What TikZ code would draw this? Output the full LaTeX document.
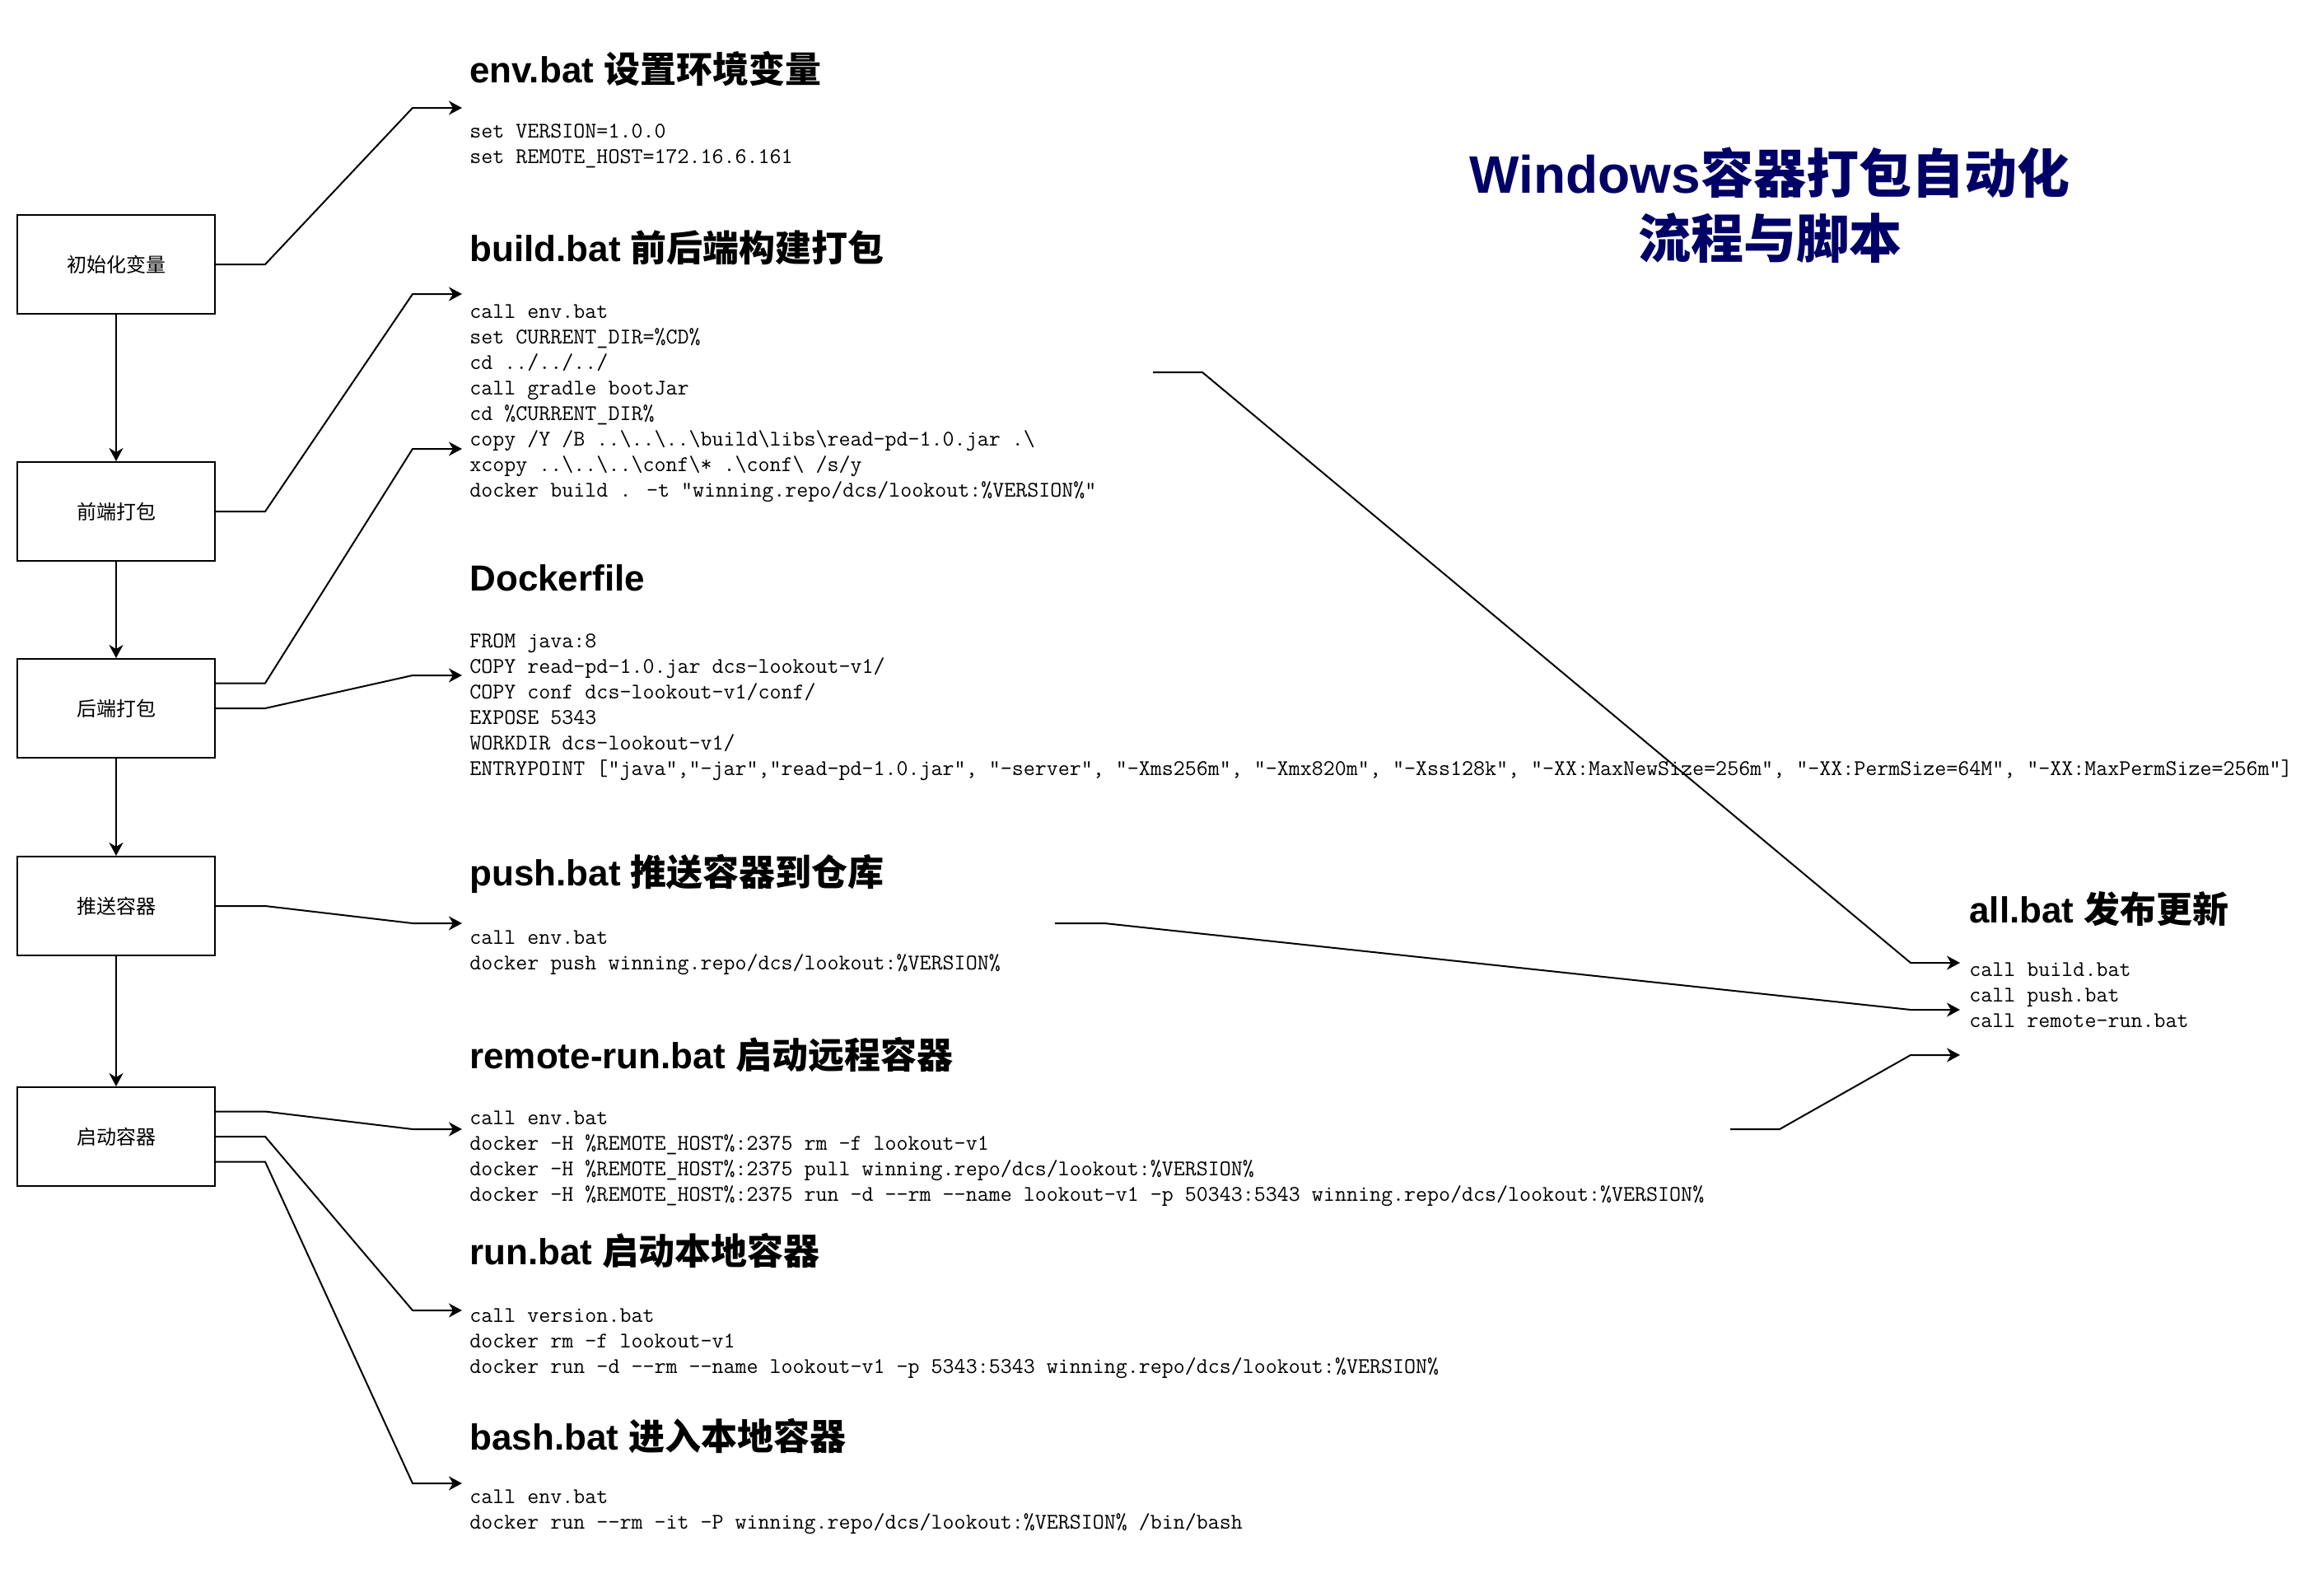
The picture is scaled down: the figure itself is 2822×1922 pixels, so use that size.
\documentclass[tikz,border=0pt]{standalone}
\usepackage{fontspec}
\setmainfont{Liberation Sans}
\newfontfamily\cjk{Noto Sans CJK SC}
\usetikzlibrary{calc, arrows.meta}
\definecolor{titleblue}{HTML}{000066}
\newcommand{\bksl}{\textbackslash}
\newcommand{\codefont}{\ttfamily\fontsize{13.6}{15.5}\selectfont}
\newcommand{\headfont}{\fontsize{22}{26}\selectfont\bfseries}

\begin{document}
\begin{tikzpicture}[x=0.5pt, y=-0.5pt, >={Stealth[length=8pt, width=8.5pt, inset=2.5pt]}]
	\tikzset{stepBox/.style={draw=black, line width=1pt, fill=white, minimum width=120pt, minimum height=60pt, font=\fontsize{12}{14}\selectfont\cjk}}
	\tikzset{link/.style={->, line width=1pt}}
	\tikzset{head/.style={anchor=base west, inner sep=0pt, font=\headfont}}
	\tikzset{code/.style={anchor=north west, inner sep=0pt, yshift=10.85pt, align=left, font=\codefont}}
	\tikzset{title/.style={anchor=north, inner sep=0pt, yshift=27.65pt, align=center, text=titleblue, font=\fontsize{32}{39.5}\selectfont\bfseries}}
		\useasboundingbox (0,0) rectangle (2822,1922);
		\foreach \name/\y/\tag in {boxInit/321/初始化变量, boxFront/621/前端打包, boxBack/860/后端打包, boxPush/1100/推送容器, boxStart/1380/启动容器}
		{\node[stepBox] (\name) at (141,\y) {\tag};}
		\draw[link] (boxInit) -- (boxFront);
		\draw[link] (boxFront) -- (boxBack);
		\draw[link] (boxBack) -- (boxPush);
		\draw[link] (boxPush) -- (boxStart);
		% scripts
		\node[head] (envHead) at (570,100) {env.bat {\cjk 设置环境变量}};
		\node[code] (envCode) at (570,167) {\strut set VERSION=1.0.0\\
			set REMOTE\_HOST=172.16.6.161};
		\node[head] (buildHead) at (570,317) {build.bat {\cjk 前后端构建打包}};
		\node[code] (buildCode) at (570,386) {\strut call env.bat\\
			set CURRENT\_DIR=\%CD\%\\
			cd ../../../\\
			call gradle bootJar\\
			cd \%CURRENT\_DIR\%\\
			copy /Y /B ..\bksl..\bksl..\bksl build\bksl libs\bksl read-pd-1.0.jar .\bksl\\
			xcopy ..\bksl..\bksl..\bksl conf\bksl* .\bksl conf\bksl{} /s/y\\
			docker build . -t "winning.repo/dcs/lookout:\%VERSION\%"};
		\node[head] (dockHead) at (570,717) {Dockerfile};
		\node[code] (dockCode) at (570,786) {\strut FROM java:8\\
			COPY read-pd-1.0.jar dcs-lookout-v1/\\
			COPY conf dcs-lookout-v1/conf/\\
			EXPOSE 5343\\
			WORKDIR dcs-lookout-v1/\\
			ENTRYPOINT ["java","-jar","read-pd-1.0.jar", "-server", "-Xms256m", "-Xmx820m", "-Xss128k", "-XX:MaxNewSize=256m", "-XX:PermSize=64M", "-XX:MaxPermSize=256m"]};
		\node[head] (pushHead) at (570,1075) {push.bat {\cjk 推送容器到仓库}};
		\node[code] (pushCode) at (570,1146) {\strut call env.bat\\
			docker push winning.repo/dcs/lookout:\%VERSION\%};
		\node[head] (remoteHead) at (570,1297) {remote-run.bat {\cjk 启动远程容器}};
		\node[code] (remoteCode) at (570,1365) {\strut call env.bat\\
			docker -H \%REMOTE\_HOST\%:2375 rm -f lookout-v1\\
			docker -H \%REMOTE\_HOST\%:2375 pull winning.repo/dcs/lookout:\%VERSION\%\\
			docker -H \%REMOTE\_HOST\%:2375 run -d -{}-rm -{}-name lookout-v1 -p 50343:5343 winning.repo/dcs/lookout:\%VERSION\%};
		\node[head] (runHead) at (570,1535) {run.bat {\cjk 启动本地容器}};
		\node[code] (runCode) at (570,1605) {\strut call version.bat\\
			docker rm -f lookout-v1\\
			docker run -d -{}-rm -{}-name lookout-v1 -p 5343:5343 winning.repo/dcs/lookout:\%VERSION\%};
		\node[head] (bashHead) at (570,1760) {bash.bat {\cjk 进入本地容器}};
		\node[code] (bashCode) at (570,1825) {\strut call env.bat\\
			docker run -{}-rm -it -P winning.repo/dcs/lookout:\%VERSION\% /bin/bash};
		\node[head] (allHead) at (2391,1120) {all.bat {\cjk 发布更新}};
		\node[code] (allCode) at (2391,1185) {\strut call build.bat\\
			call push.bat\\
			call remote-run.bat};
		\node[title] (title) at (2149,234) {\strut Windows{\cjk 容器打包自动化}\\{\cjk 流程与脚本}};
		% connector ends
		\coordinate (backA) at ($(boxBack.north east)!.25!(boxBack.south east)$);
		\coordinate (startA) at ($(boxStart.north east)!.25!(boxStart.south east)$);
		\coordinate (startC) at ($(boxStart.north east)!.75!(boxStart.south east)$);
		\coordinate (envIn) at (561,131);
		\coordinate (buildIn) at (561,357);
		\coordinate (buildIn2) at (561,545);
		\coordinate (dockIn) at (561,820);
		\coordinate (pushIn) at (561,1121);
		\coordinate (remoteIn) at (561,1371);
		\coordinate (runIn) at (561,1591);
		\coordinate (bashIn) at (561,1801);
		\coordinate (buildOut) at (1400,452);
		\coordinate (pushOut) at (1281,1121);
		\coordinate (remoteOut) at (2101,1371);
		\coordinate (allIn1) at (2380,1169);
		\coordinate (allIn2) at (2380,1226);
		\coordinate (allIn3) at (2380,1281);
		\foreach \src/\dst in {boxInit.east/envIn, boxFront.east/buildIn, backA/buildIn2, boxBack.east/dockIn, boxPush.east/pushIn, startA/remoteIn, boxStart.east/runIn, startC/bashIn, buildOut/allIn1, pushOut/allIn2, remoteOut/allIn3}
		{\draw[link] (\src) -- ++(60,0) -- ($(\dst)+(-60,0)$) -- (\dst);}
	\end{tikzpicture}
\end{document}
